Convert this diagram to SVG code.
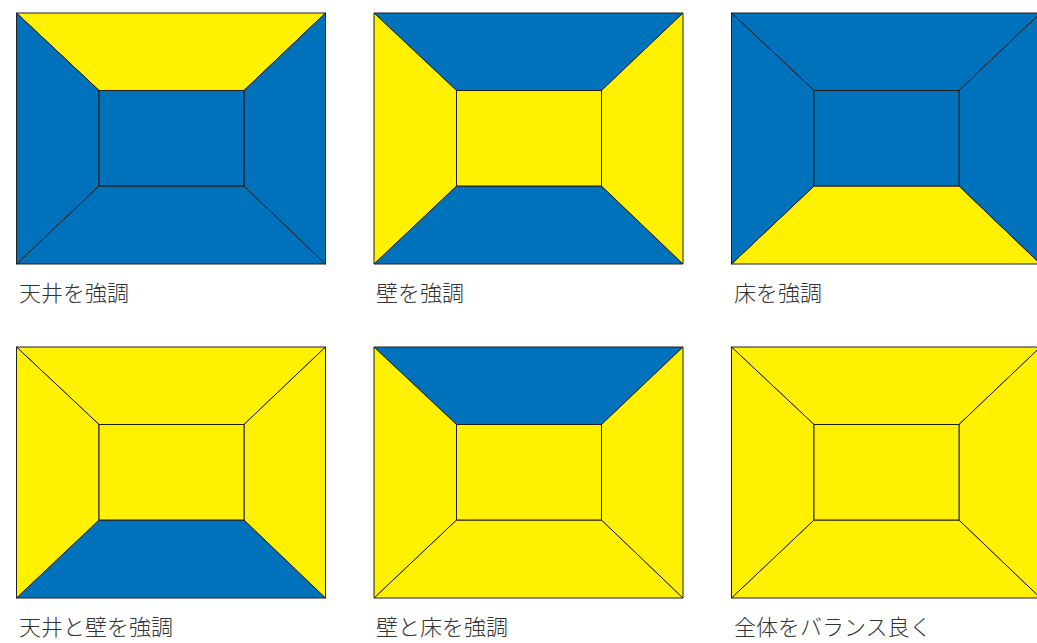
<svg xmlns="http://www.w3.org/2000/svg" width="1037" height="643" viewBox="0 0 1037 643">
<style>
.b{fill:#0071bb}
.y{fill:#fff100}
.p polygon,.p rect{stroke:#231f20;stroke-width:1;stroke-linejoin:miter}
.lbl{font-family:"Noto Sans CJK JP","Noto Sans",sans-serif;font-weight:300;font-size:22px;fill:#333}
</style>
<rect width="1037" height="643" fill="#fff"/>
<g id="panel1" class="p" transform="translate(16.5,13)">
<polygon class="y" points="0,0 309,0 227.5,77.5 82.5,77.5"/>
<polygon class="b" points="0,251 309,251 227.5,173 82.5,173"/>
<polygon class="b" points="0,0 82.5,77.5 82.5,173 0,251"/>
<polygon class="b" points="309,0 227.5,77.5 227.5,173 309,251"/>
<rect class="b" x="82.5" y="77.5" width="145" height="95.5"/>
</g>
<g id="panel2" class="p" transform="translate(374,13)">
<polygon class="b" points="0,0 309,0 227.5,77.5 82.5,77.5"/>
<polygon class="b" points="0,251 309,251 227.5,173 82.5,173"/>
<polygon class="y" points="0,0 82.5,77.5 82.5,173 0,251"/>
<polygon class="y" points="309,0 227.5,77.5 227.5,173 309,251"/>
<rect class="y" x="82.5" y="77.5" width="145" height="95.5"/>
</g>
<g id="panel3" class="p" transform="translate(731.5,13)">
<polygon class="b" points="0,0 309,0 227.5,77.5 82.5,77.5"/>
<polygon class="y" points="0,251 309,251 227.5,173 82.5,173"/>
<polygon class="b" points="0,0 82.5,77.5 82.5,173 0,251"/>
<polygon class="b" points="309,0 227.5,77.5 227.5,173 309,251"/>
<rect class="b" x="82.5" y="77.5" width="145" height="95.5"/>
</g>
<g id="panel4" class="p" transform="translate(16.5,347)">
<polygon class="y" points="0,0 309,0 227.5,77.5 82.5,77.5"/>
<polygon class="b" points="0,251 309,251 227.5,173 82.5,173"/>
<polygon class="y" points="0,0 82.5,77.5 82.5,173 0,251"/>
<polygon class="y" points="309,0 227.5,77.5 227.5,173 309,251"/>
<rect class="y" x="82.5" y="77.5" width="145" height="95.5"/>
</g>
<g id="panel5" class="p" transform="translate(374,347)">
<polygon class="b" points="0,0 309,0 227.5,77.5 82.5,77.5"/>
<polygon class="y" points="0,251 309,251 227.5,173 82.5,173"/>
<polygon class="y" points="0,0 82.5,77.5 82.5,173 0,251"/>
<polygon class="y" points="309,0 227.5,77.5 227.5,173 309,251"/>
<rect class="y" x="82.5" y="77.5" width="145" height="95.5"/>
</g>
<g id="panel6" class="p" transform="translate(731.5,347)">
<polygon class="y" points="0,0 309,0 227.5,77.5 82.5,77.5"/>
<polygon class="y" points="0,251 309,251 227.5,173 82.5,173"/>
<polygon class="y" points="0,0 82.5,77.5 82.5,173 0,251"/>
<polygon class="y" points="309,0 227.5,77.5 227.5,173 309,251"/>
<rect class="y" x="82.5" y="77.5" width="145" height="95.5"/>
</g>
<g id="labels">
<text class="lbl" x="19" y="301">天井を強調</text>
<text class="lbl" x="376" y="301">壁を強調</text>
<text class="lbl" x="734" y="301">床を強調</text>
<text class="lbl" x="19" y="635">天井と壁を強調</text>
<text class="lbl" x="376" y="635">壁と床を強調</text>
<text class="lbl" x="734" y="635">全体をバランス良く</text>
</g>
</svg>
